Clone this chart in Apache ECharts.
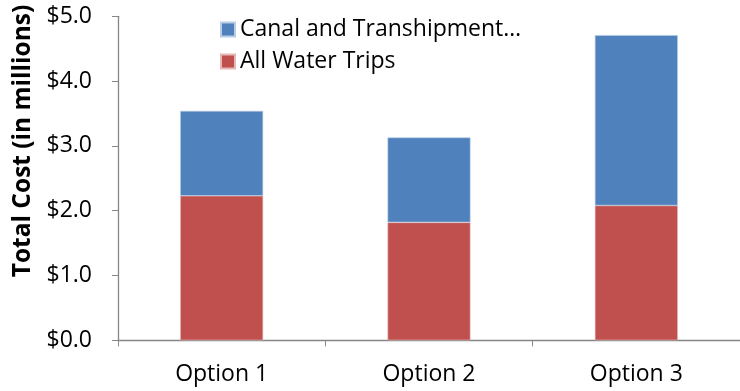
<!DOCTYPE html>
<html>
<head>
<meta charset="utf-8">
<script src="https://cdn.jsdelivr.net/npm/echarts@6/dist/echarts.min.js"></script>
<style>
  html, body { margin: 0; padding: 0; background: #fff; }
  #chart { width: 740px; height: 391px; }
</style>
</head>
<body>
<div id="chart"></div>
<script>
// Cost breakdown per option, in millions of dollars
const categories = ['Option 1', 'Option 2', 'Option 3'];
const allWaterTrips = [2.23, 1.82, 2.08];
const canalTranship = [1.31, 1.31, 2.63];
const seriesNames = ['All Water Trips', 'Canal and Transhipment…'];
const legendOrder = ['Canal and Transhipment…', 'All Water Trips'];
const yTitle = 'Total Cost (in millions)';

const FONT = '"Open Sans", sans-serif';
const AXIS_GRAY = '#868686';

const chart = echarts.init(document.getElementById('chart'), null, { renderer: 'canvas' });

chart.setOption({
  animation: false,
  grid: { left: 118, top: 16.3, bottom: 50.7, width: 630, containLabel: false },
  legend: {
    data: legendOrder,
    orient: 'vertical',
    left: 220,
    top: 18,
    padding: 0,
    itemWidth: 14,
    itemHeight: 14,
    itemGap: 9,
    icon: 'rect',
    textStyle: { fontFamily: FONT, fontSize: 23, color: '#000' }
  },
  // axis title, placed by hand so it sits a little above the axis centre
  graphic: [{
    type: 'text',
    x: 23,
    y: 141,
    rotation: Math.PI / 2,
    style: {
      text: yTitle,
      fontFamily: FONT,
      fontSize: 24.5,
      fontWeight: 'bold',
      fill: '#000',
      align: 'center',
      verticalAlign: 'middle'
    }
  }],
  xAxis: {
    type: 'category',
    data: categories,
    axisLine: { lineStyle: { color: AXIS_GRAY, width: 1.3 } },
    axisTick: { show: true, length: 6, lineStyle: { color: AXIS_GRAY } },
    axisLabel: { fontFamily: FONT, fontSize: 23, color: '#000', margin: 23 }
  },
  yAxis: {
    type: 'value',
    min: 0,
    max: 5,
    interval: 1,
    splitLine: { show: false },
    axisLine: { show: true, lineStyle: { color: AXIS_GRAY, width: 1.3 } },
    axisTick: { show: true, length: 6, lineStyle: { color: AXIS_GRAY } },
    axisLabel: {
      fontFamily: FONT, fontSize: 23, color: '#000', margin: 26,
      formatter: v => '$' + v.toFixed(1)
    }
  },
  series: [
    {
      name: seriesNames[0],
      type: 'bar',
      stack: 'cost',
      data: allWaterTrips,
      barWidth: '40%',
      itemStyle: { color: '#C0504D', borderColor: '#E6B9B8', borderWidth: 0.6 }
    },
    {
      name: seriesNames[1],
      type: 'bar',
      stack: 'cost',
      data: canalTranship,
      barWidth: '40%',
      itemStyle: { color: '#4F81BD', borderColor: '#B9CDE5', borderWidth: 0.6 }
    }
  ]
});
</script>
</body>
</html>
